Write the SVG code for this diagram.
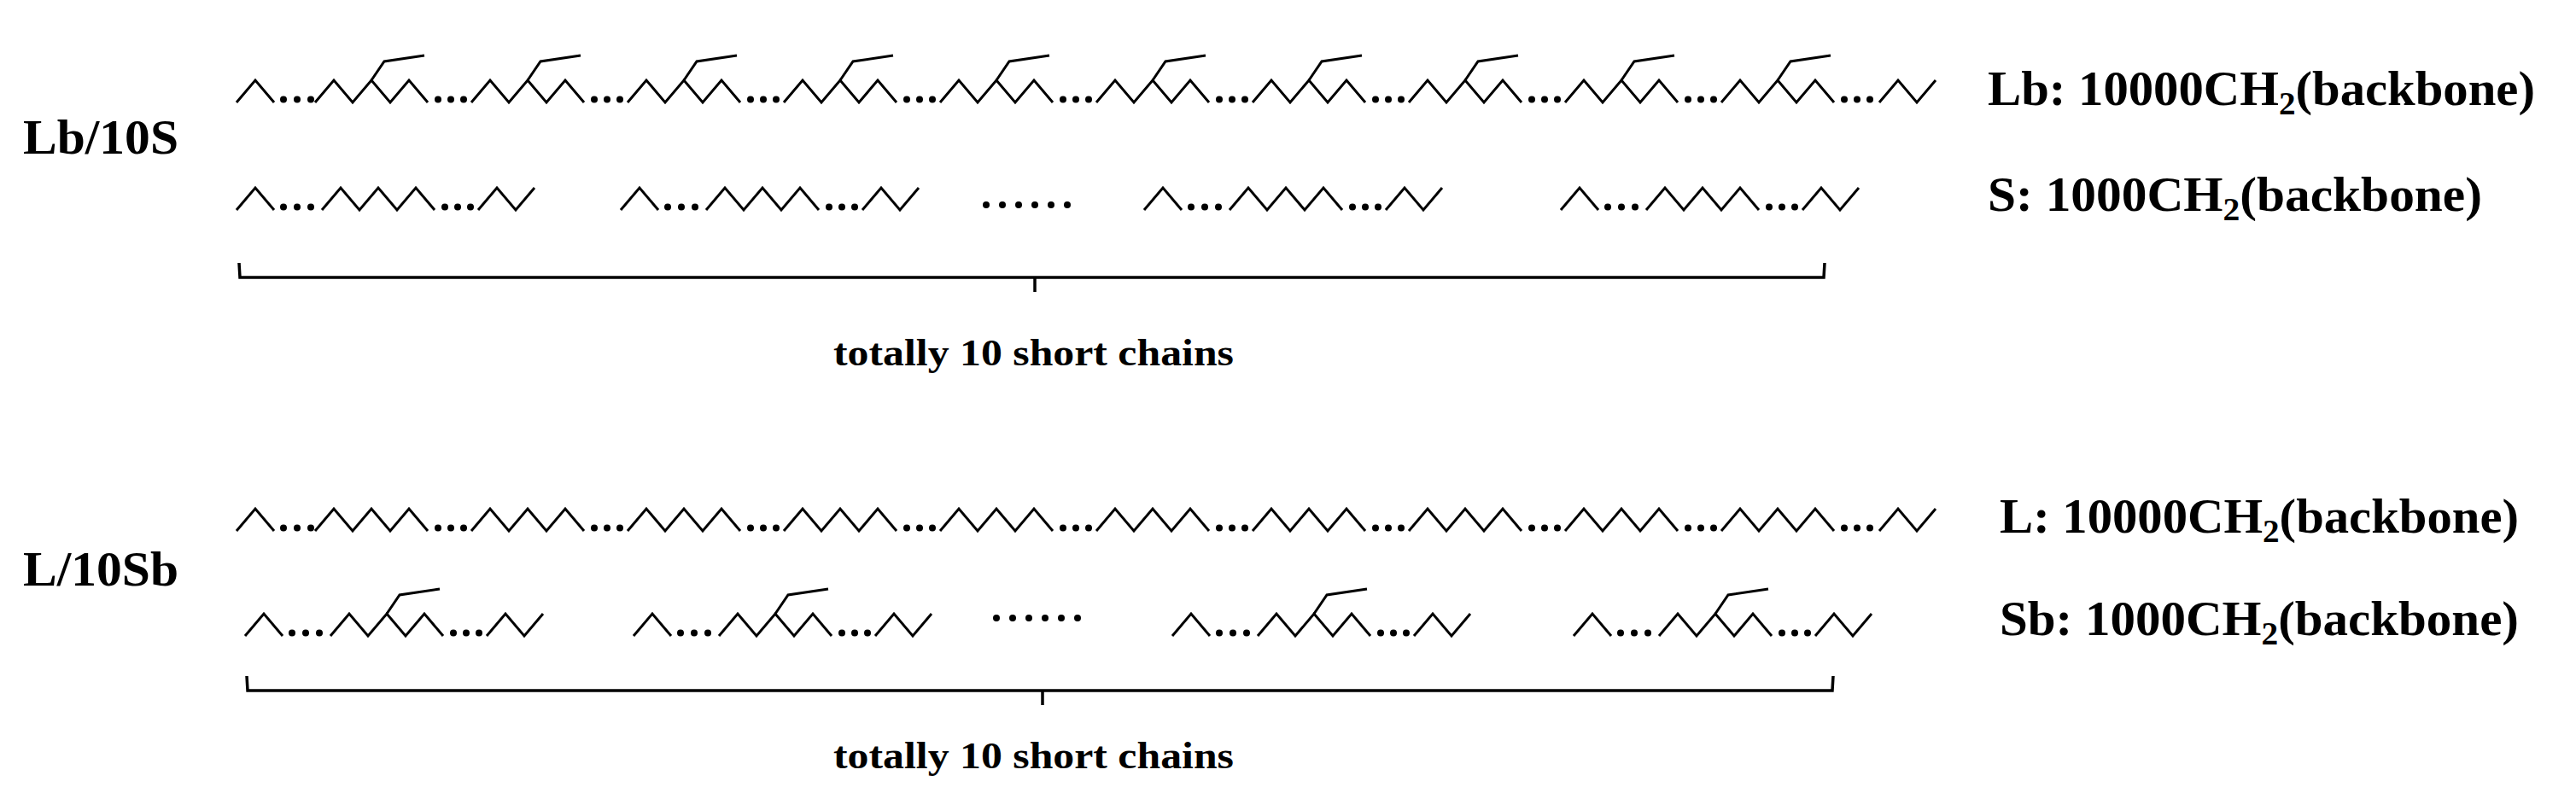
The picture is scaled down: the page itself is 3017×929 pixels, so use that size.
<svg xmlns="http://www.w3.org/2000/svg" xmlns:xlink="http://www.w3.org/1999/xlink" width="3017" height="929" viewBox="0 0 3017 929">
<style>
.z{fill:none;stroke:#000;stroke-width:3;stroke-linejoin:miter}
.d{fill:#000}
.br{fill:none;stroke:#000;stroke-width:3.5}
.t{font-family:"Liberation Serif",serif;font-weight:bold;fill:#000}
</style>
<defs>
<g id="cap"><path class="z" d="M0,0 l22,-26 l22,26"/><circle class="d" cx="55" cy="-3.5" r="4"/><circle class="d" cx="71" cy="-3.5" r="4"/><circle class="d" cx="87" cy="-3.5" r="4"/></g>
<g id="u"><path class="z" d="M0,0 l22,-26 l22,26 l22,-26 l22,26 l22,-26 l22,26"/><circle class="d" cx="144" cy="-3.5" r="4"/><circle class="d" cx="159" cy="-3.5" r="4"/><circle class="d" cx="174" cy="-3.5" r="4"/></g>
<g id="ub"><use xlink:href="#u"/><path class="z" d="M66,-26 l15,-22 l47,-7"/></g>
<path id="end" class="z" d="M0,0 l22,-26 l22,26 l22,-26"/>
<g id="sc"><use xlink:href="#cap"/><use xlink:href="#u" x="100"/><use xlink:href="#end" x="283"/></g>
<g id="scb"><use xlink:href="#cap"/><use xlink:href="#ub" x="100"/><use xlink:href="#end" x="283"/></g>
<g id="six"><circle class="d" cx="0" cy="0" r="4"/><circle class="d" cx="19" cy="0" r="4"/><circle class="d" cx="38" cy="0" r="4"/><circle class="d" cx="57" cy="0" r="4"/><circle class="d" cx="76" cy="0" r="4"/><circle class="d" cx="95" cy="0" r="4"/></g>
</defs>

<g id="label-Lb10S"><text class="t" x="27" y="180" font-size="58" textLength="182" lengthAdjust="spacingAndGlyphs">Lb/10S</text></g>
<g id="label-L10Sb"><text class="t" x="27" y="686" font-size="58" textLength="182" lengthAdjust="spacingAndGlyphs">L/10Sb</text></g>

<g id="chain-Lb">
<use xlink:href="#cap" x="277" y="120"/>
<use xlink:href="#ub" x="369" y="120"/><use xlink:href="#ub" x="552" y="120"/><use xlink:href="#ub" x="735" y="120"/><use xlink:href="#ub" x="918" y="120"/><use xlink:href="#ub" x="1101" y="120"/><use xlink:href="#ub" x="1284" y="120"/><use xlink:href="#ub" x="1467" y="120"/><use xlink:href="#ub" x="1650" y="120"/><use xlink:href="#ub" x="1833" y="120"/><use xlink:href="#ub" x="2016" y="120"/>
<use xlink:href="#end" x="2201" y="120"/>
</g>
<g id="chains-S">
<use xlink:href="#sc" x="277" y="246"/><use xlink:href="#sc" x="727" y="246"/>
<use xlink:href="#six" x="1155" y="240"/>
<use xlink:href="#sc" x="1340" y="246"/><use xlink:href="#sc" x="1828" y="246"/>
</g>
<g id="chain-L">
<use xlink:href="#cap" x="277" y="622"/>
<use xlink:href="#u" x="369" y="622"/><use xlink:href="#u" x="552" y="622"/><use xlink:href="#u" x="735" y="622"/><use xlink:href="#u" x="918" y="622"/><use xlink:href="#u" x="1101" y="622"/><use xlink:href="#u" x="1284" y="622"/><use xlink:href="#u" x="1467" y="622"/><use xlink:href="#u" x="1650" y="622"/><use xlink:href="#u" x="1833" y="622"/><use xlink:href="#u" x="2016" y="622"/>
<use xlink:href="#end" x="2201" y="622"/>
</g>
<g id="chains-Sb">
<use xlink:href="#scb" x="287" y="745"/><use xlink:href="#scb" x="742" y="745"/>
<use xlink:href="#six" x="1167" y="724"/>
<use xlink:href="#scb" x="1373" y="745"/><use xlink:href="#scb" x="1843" y="745"/>
</g>

<g id="connectors">
<path class="br" d="M280,308 L281,325 L2136,325 L2137,308 M1212,325 L1212,342"/>
<path class="br" d="M289,792 L290,809 L2146,809 L2147,792 M1221,809 L1221,826"/>
</g>

<g id="text-Lb"><text class="t" x="2328" y="123" font-size="57" textLength="641" lengthAdjust="spacingAndGlyphs">Lb: 10000CH<tspan font-size="38" dy="11">2</tspan><tspan dy="-11">(backbone)</tspan></text></g>
<g id="text-S"><text class="t" x="2328" y="247" font-size="57" textLength="579" lengthAdjust="spacingAndGlyphs">S: 1000CH<tspan font-size="38" dy="11">2</tspan><tspan dy="-11">(backbone)</tspan></text></g>
<g id="text-L"><text class="t" x="2342" y="624" font-size="57" textLength="608" lengthAdjust="spacingAndGlyphs">L: 10000CH<tspan font-size="38" dy="11">2</tspan><tspan dy="-11">(backbone)</tspan></text></g>
<g id="text-Sb"><text class="t" x="2342" y="744" font-size="57" textLength="608" lengthAdjust="spacingAndGlyphs">Sb: 1000CH<tspan font-size="38" dy="11">2</tspan><tspan dy="-11">(backbone)</tspan></text></g>
<g id="text-total1"><text class="t" x="976" y="428" font-size="44" textLength="469" lengthAdjust="spacingAndGlyphs">totally 10 short chains</text></g>
<g id="text-total2"><text class="t" x="976" y="900" font-size="44" textLength="469" lengthAdjust="spacingAndGlyphs">totally 10 short chains</text></g>
</svg>
